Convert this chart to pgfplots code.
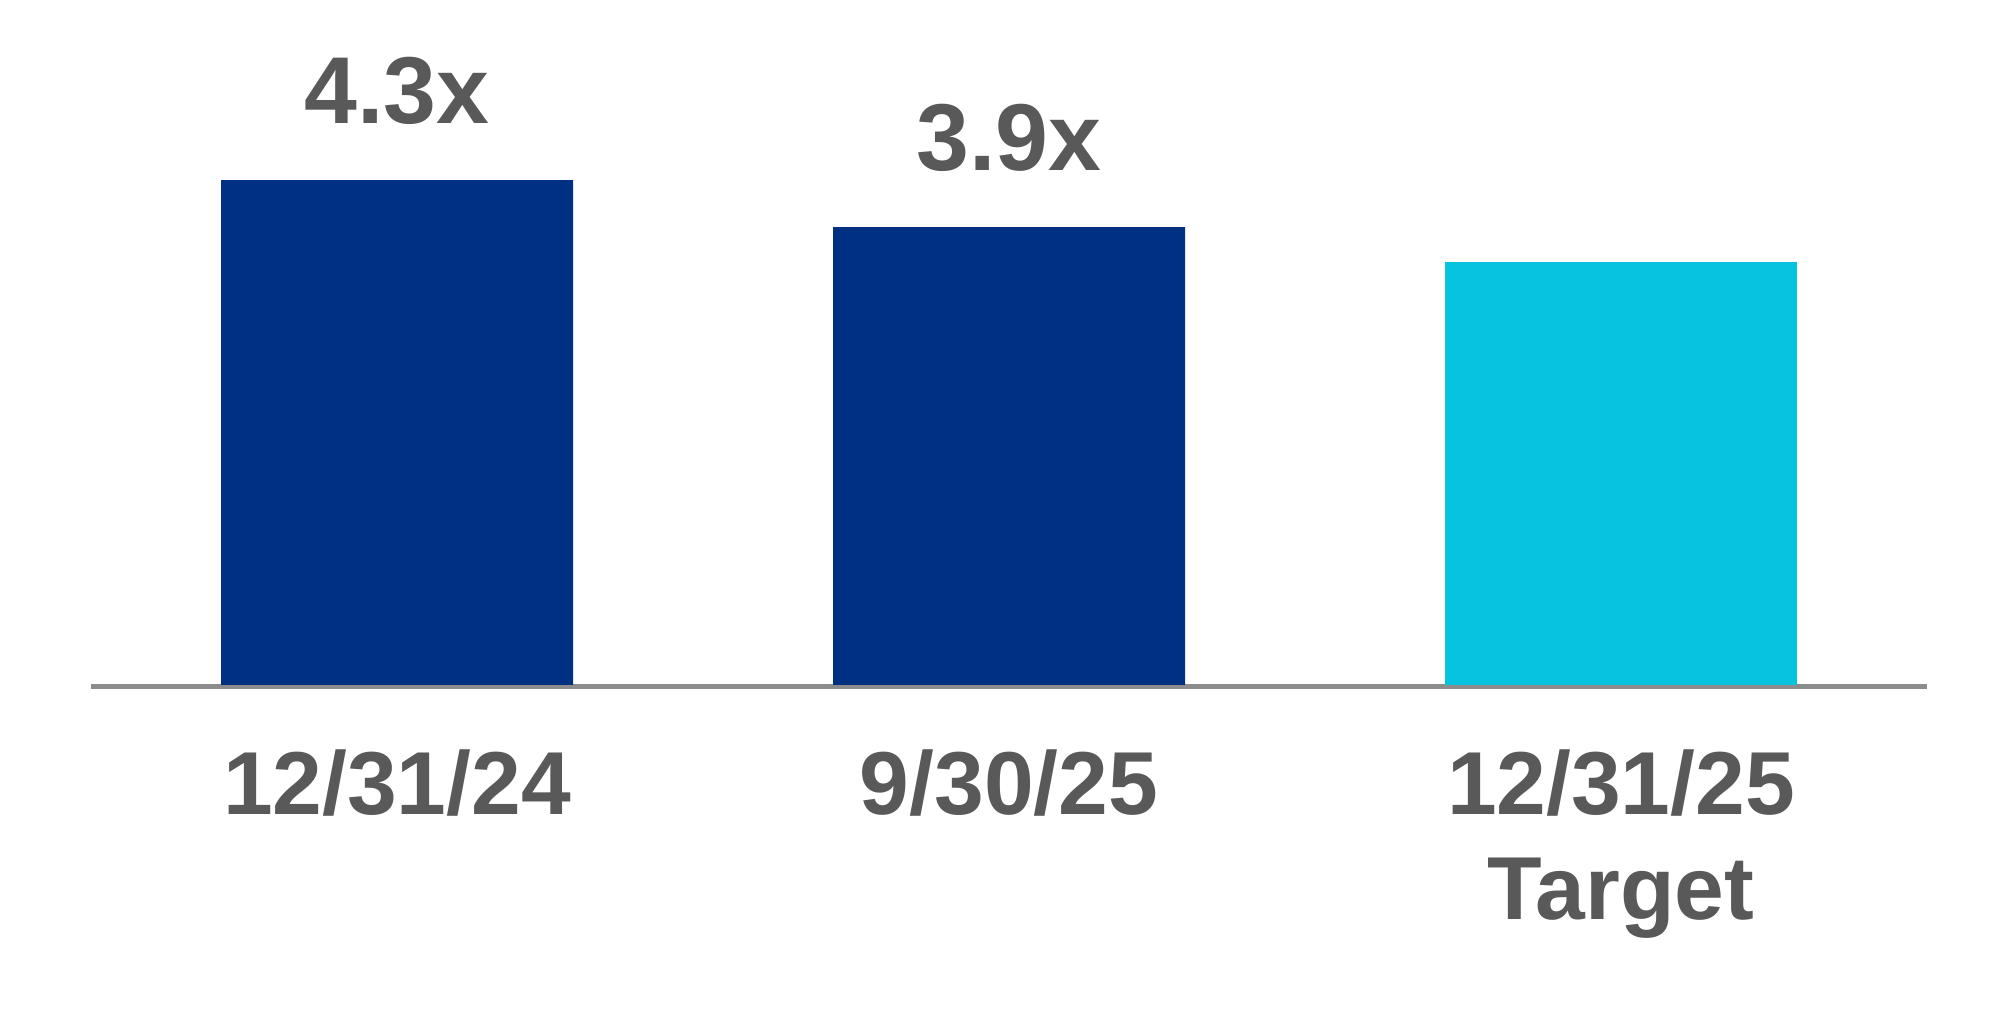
\documentclass[border=0pt]{standalone}
\usepackage{pgfplots}
\pgfplotsset{compat=1.18}
\usepackage{fontspec}
\setmainfont{Liberation Sans}
\definecolor{navy}{HTML}{003082}
\definecolor{cyanbar}{HTML}{07C3DF}
\definecolor{txtgray}{HTML}{595959}
\definecolor{linegray}{HTML}{8C8C8C}
\begin{document}
\begin{tikzpicture}
\useasboundingbox (0,0) rectangle (1008pt,516pt);
\begin{axis}[
  at={(45.5pt,173.5pt)}, anchor=south west,
  scale only axis,
  width=918pt, height=293.5pt,
  xmin=-0.5, xmax=2.5, ymin=0, ymax=5,
  clip=false,
  hide y axis,
  axis x line*=bottom,
  axis x line shift=1pt,
  x axis line style={draw=linegray, line width=2.5pt},
  xtick={0,1,2},
  xticklabels={12/31/24, 9/30/25, {\begin{tabular}[t]{@{}c@{}}12/31/25\\Target\end{tabular}}},
  major tick length=0pt,
  xticklabel style={anchor=base, yshift=-63.5pt,
    font=\fontsize{44.7}{52.5}\selectfont\bfseries, text=txtgray, inner sep=0pt},
  ybar, bar width=176pt, bar shift=0pt,
  nodes near coords,
  point meta=explicit symbolic,
  every node near coord/.append style={anchor=base, yshift=28.5pt,
    font=\fontsize{47.5}{57}\selectfont\bfseries, text=txtgray, inner sep=0pt},
]
\addplot[fill=navy, draw=none] coordinates {(0,4.3) [4.3x] (1,3.9) [3.9x]};
\addplot[fill=cyanbar, draw=none, nodes near coords={}] coordinates {(2,3.6) []};
\end{axis}
\end{tikzpicture}
\end{document}
